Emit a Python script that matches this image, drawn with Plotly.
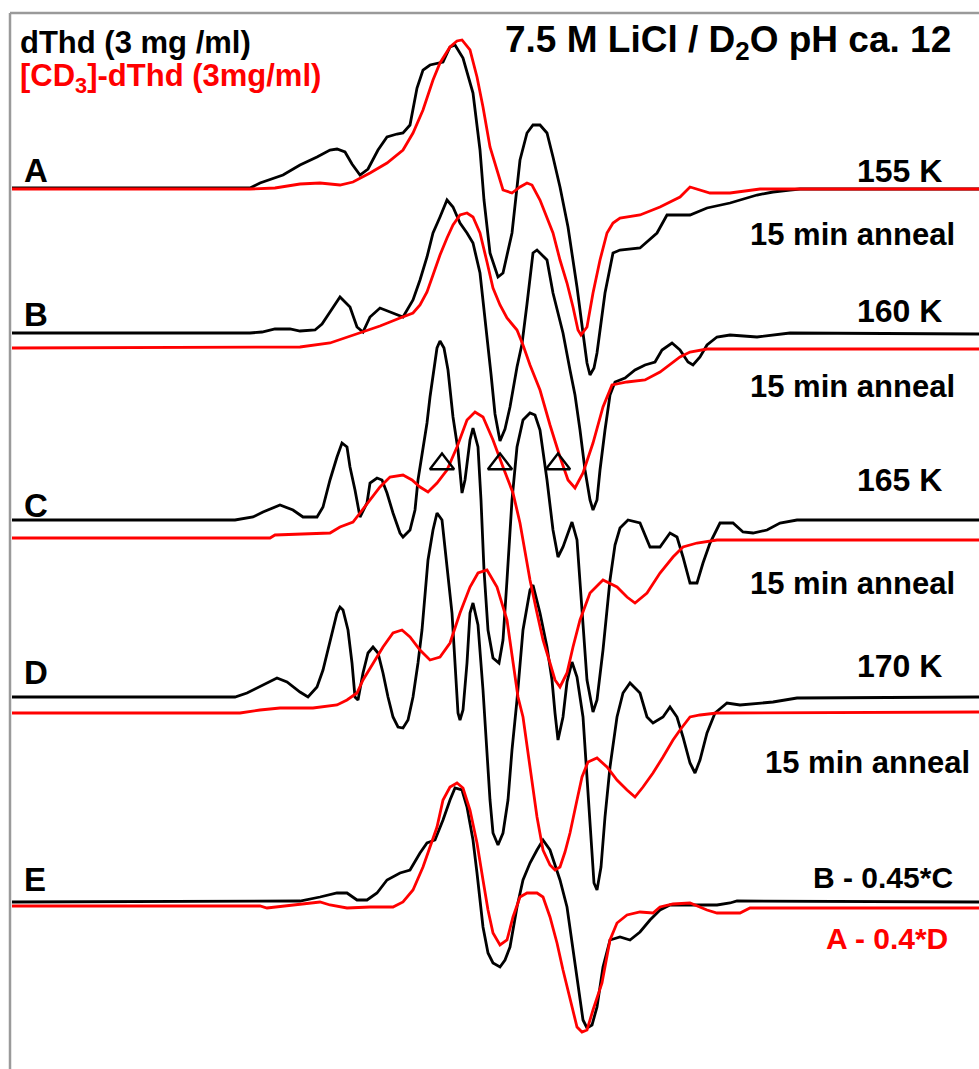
import plotly.graph_objects as go

# ---- ESR spectra (field in arbitrary units, first-derivative signal) ----
# A: 155 K
field_a_h = [12, 250, 260, 283, 300, 317, 330, 337, 345, 352, 360, 368, 378, 387, 397, 403, 410, 417, 423, 430, 443, 450, 455, 463, 473, 480, 484, 490, 498, 503, 512, 520, 527, 533, 540, 547, 553, 560, 568, 577, 583, 587, 590, 594, 597, 605, 613, 620, 640, 657, 667, 690, 707, 730, 757, 773, 790, 800, 979]
sig_a_h = [0, 0, 5, 13, 23, 31, 38, 39, 36, 24, 13, 19, 38, 51, 54, 55, 63, 100, 118, 123, 126, 141, 143, 130, 95, 38, -12, -65, -89, -85, -45, 28, 55, 63, 63, 55, 31, 1, -39, -99, -145, -175, -187, -180, -165, -105, -65, -62, -60, -45, -27, -27, -20, -15, -7, -4, -2, -1, -1]
field_a_d = [12, 250, 275, 300, 320, 340, 353, 370, 387, 403, 413, 423, 433, 440, 450, 457, 462, 470, 477, 483, 490, 497, 503, 512, 520, 527, 532, 540, 547, 553, 560, 567, 573, 578, 581, 587, 593, 600, 607, 613, 620, 640, 660, 680, 690, 700, 710, 730, 745, 760, 979]
sig_a_d = [0, 0, 1, 5, 6, 4, 7, 16, 26, 39, 56, 79, 109, 126, 142, 148, 149, 139, 112, 82, 42, 19, -1, -4, 2, 6, 4, -11, -28, -44, -71, -94, -118, -141, -146, -138, -104, -71, -44, -34, -29, -26, -18, -8, 2, -1, -4, -4, -2, 0, 0]

# B: 160 K
field_b_h = [12, 250, 262, 275, 290, 300, 315, 322, 330, 340, 350, 357, 363, 370, 380, 393, 403, 413, 420, 427, 433, 440, 447, 453, 460, 467, 473, 480, 483, 487, 491, 495, 500, 505, 510, 517, 522, 527, 533, 537, 547, 553, 563, 570, 575, 580, 585, 590, 593, 597, 600, 605, 610, 615, 625, 635, 645, 655, 662, 672, 680, 688, 693, 700, 707, 717, 730, 757, 790, 979]
sig_b_h = [1, 1, 2, 5, 5, 3, 4, 10, 22, 37, 27, 7, 2, 17, 26, 21, 17, 34, 54, 77, 101, 117, 134, 127, 111, 101, 91, 61, 34, 1, -40, -80, -107, -95, -73, -33, -10, 30, 81, 84, 74, 41, 1, -36, -61, -96, -136, -166, -176, -166, -136, -96, -61, -48, -44, -36, -31, -28, -16, -9, -16, -28, -31, -23, -11, -3, -1, -3, 1, 0]
field_b_d = [12, 300, 330, 360, 380, 400, 413, 420, 427, 433, 440, 447, 453, 460, 467, 473, 480, 487, 493, 500, 507, 517, 523, 530, 540, 550, 560, 568, 575, 583, 593, 603, 612, 627, 645, 660, 680, 690, 707, 979]
sig_b_d = [1, 2, 6, 16, 23, 31, 36, 44, 57, 74, 94, 111, 124, 134, 136, 132, 116, 87, 61, 44, 31, 19, 4, -16, -41, -76, -108, -131, -139, -124, -94, -58, -36, -33, -31, -23, -8, -3, 0, 0]

# C: 165 K
field_c_h = [12, 235, 253, 263, 280, 293, 303, 317, 323, 330, 337, 342, 347, 350, 355, 360, 367, 370, 377, 382, 387, 393, 400, 403, 410, 415, 418, 423, 427, 430, 434, 437, 440, 444, 448, 453, 458, 462, 465, 470, 473, 478, 481, 484, 488, 493, 499, 503, 507, 512, 517, 523, 530, 535, 540, 547, 553, 558, 563, 572, 577, 582, 587, 593, 597, 603, 610, 615, 620, 628, 640, 650, 660, 670, 677, 683, 690, 697, 703, 710, 720, 733, 743, 753, 767, 780, 797, 979]
sig_c_h = [0, 0, 3, 8, 15, 10, 3, 3, 13, 40, 63, 77, 73, 53, 30, 3, 17, 37, 42, 40, 27, 7, -13, -17, -10, 10, 40, 73, 97, 123, 150, 172, 179, 172, 150, 103, 70, 27, 40, 80, 92, 73, 20, -50, -110, -138, -143, -120, -60, 20, 73, 100, 107, 105, 90, 40, -10, -37, -27, -2, -20, -93, -160, -192, -180, -130, -60, -25, -8, 0, -3, -27, -27, -13, -17, -37, -63, -63, -43, -23, -3, -3, -12, -13, -10, -3, 0, 0]
field_c_d = [12, 270, 275, 330, 340, 353, 360, 370, 380, 390, 403, 412, 420, 428, 437, 447, 457, 467, 475, 483, 493, 503, 513, 520, 525, 530, 537, 543, 550, 555, 560, 567, 573, 580, 590, 603, 617, 627, 635, 647, 660, 673, 683, 697, 717, 979]
sig_c_d = [1, 1, 4, 6, 12, 17, 26, 39, 52, 62, 64, 59, 52, 47, 56, 69, 92, 119, 127, 122, 99, 72, 46, 16, -14, -41, -74, -101, -124, -141, -148, -134, -108, -81, -54, -41, -48, -58, -64, -54, -34, -18, -8, -4, -1, -1]

# D: 170 K
field_d_h = [12, 235, 247, 263, 277, 287, 300, 308, 317, 323, 330, 337, 340, 343, 348, 352, 355, 358, 363, 368, 373, 378, 383, 388, 393, 398, 403, 408, 413, 418, 422, 425, 428, 433, 437, 442, 445, 448, 452, 455, 458, 460, 463, 467, 470, 473, 478, 483, 487, 490, 493, 498, 503, 508, 512, 517, 523, 530, 533, 540, 547, 552, 555, 558, 563, 567, 572, 577, 583, 590, 594, 597, 601, 605, 610, 617, 623, 630, 640, 647, 653, 663, 670, 677, 683, 690, 695, 700, 707, 715, 727, 740, 773, 797, 979]
sig_d_h = [0, 0, 4, 12, 19, 15, 5, 0, 10, 27, 57, 84, 90, 87, 67, 34, 0, -3, 24, 44, 50, 44, 24, 0, -20, -30, -31, -23, 0, 34, 67, 100, 137, 167, 184, 177, 150, 117, 84, 34, -16, -23, -13, 34, 84, 94, 72, 7, -53, -103, -136, -148, -136, -103, -53, -3, 67, 107, 112, 84, 50, 17, -16, -43, -20, 15, 35, 20, -20, -120, -186, -193, -170, -120, -70, -20, 4, 14, 4, -20, -26, -20, -10, -20, -40, -66, -76, -63, -36, -16, -6, -8, -5, -1, 0]
field_d_d = [12, 240, 260, 280, 313, 337, 347, 357, 363, 373, 383, 393, 402, 410, 420, 430, 440, 450, 460, 470, 478, 487, 497, 507, 513, 518, 523, 530, 537, 543, 550, 555, 560, 565, 570, 577, 582, 588, 597, 607, 617, 627, 635, 643, 653, 663, 673, 680, 690, 700, 717, 979]
sig_d_d = [-1, -1, 2, 4, 4, 7, 12, 19, 32, 49, 65, 79, 82, 75, 62, 52, 55, 69, 99, 125, 139, 142, 125, 92, 49, 15, -5, -55, -105, -138, -153, -158, -155, -140, -121, -88, -65, -50, -46, -55, -68, -78, -85, -75, -61, -45, -28, -18, -5, -3, -1, 0]

# E: difference spectra (B - 0.45*C and A - 0.4*D)
field_e_h = [12, 300, 320, 337, 347, 357, 367, 377, 387, 400, 410, 420, 427, 435, 443, 450, 455, 462, 467, 473, 477, 480, 483, 488, 493, 500, 505, 510, 517, 523, 530, 537, 543, 550, 560, 567, 573, 578, 583, 587, 592, 597, 603, 610, 620, 630, 640, 650, 660, 670, 700, 717, 730, 737, 979]
sig_e_h = [0, 1, 5, 9, 9, 2, 2, 9, 22, 29, 32, 49, 59, 62, 82, 102, 114, 112, 95, 62, 29, 2, -25, -51, -61, -65, -58, -45, -5, 22, 39, 52, 62, 52, 22, -5, -48, -81, -118, -126, -123, -105, -65, -38, -35, -38, -30, -18, -8, -3, -3, -3, -1, 1, 0]
field_e_d = [12, 260, 267, 293, 320, 330, 347, 370, 393, 403, 413, 423, 430, 437, 443, 450, 457, 463, 470, 477, 483, 488, 493, 500, 507, 513, 520, 527, 537, 543, 550, 557, 563, 570, 577, 582, 587, 593, 602, 610, 617, 627, 640, 653, 660, 673, 690, 707, 717, 740, 750, 979]
sig_e_d = [1, 1, -1, 2, 5, 2, -1, 0, 0, 5, 17, 40, 60, 80, 107, 120, 124, 119, 97, 64, 27, -3, -26, -38, -33, -10, 10, 14, 14, 10, -10, -36, -63, -93, -120, -125, -123, -103, -76, -33, -16, -8, -5, -6, 0, 3, 4, -3, -6, -6, -1, -1]

# marked hyperfine lines on spectrum C
marker_fields = [442, 500, 558]
marker_level = 464

# (name, field, signal, baseline row, colour)
spectra = [
    ("A dThd", field_a_h, sig_a_h, 188, "#000000"),
    ("B dThd", field_b_h, sig_b_h, 334, "#000000"),
    ("C dThd", field_c_h, sig_c_h, 520, "#000000"),
    ("D dThd", field_d_h, sig_d_h, 697, "#000000"),
    ("E dThd", field_e_h, sig_e_h, 902, "#000000"),
    ("A CD3", field_a_d, sig_a_d, 189, "#ff0000"),
    ("B CD3", field_b_d, sig_b_d, 349, "#ff0000"),
    ("C CD3", field_c_d, sig_c_d, 539, "#ff0000"),
    ("D CD3", field_d_d, sig_d_d, 712, "#ff0000"),
    ("E CD3", field_e_d, sig_e_d, 907, "#ff0000"),
]

W, H = 979, 1069
fig = go.Figure()
for name, fx, sy, base, col in spectra:
    fig.add_trace(go.Scatter(
        x=fx, y=[s - base for s in sy], mode="lines", name=name,
        line=dict(color=col, width=2.8), hoverinfo="skip", showlegend=False,
    ))

fig.add_trace(go.Scatter(
    x=marker_fields, y=[-marker_level] * len(marker_fields), mode="markers",
    marker=dict(symbol="triangle-up-open", size=21, color="#000000",
                line=dict(width=2.4, color="#000000")),
    hoverinfo="skip", showlegend=False,
))

FONT = "Liberation Sans, Arial, sans-serif"


def label(x, y, text, size, color="#000000", anchor="left"):
    fig.add_annotation(x=x, y=-y, text="<b>" + text + "</b>", showarrow=False,
                       xanchor=anchor, yanchor="middle",
                       font=dict(family=FONT, size=size, color=color))


label(18, 42, "dThd (3 mg /ml)", 31)
label(18, 78, "[CD<sub>3</sub>]-dThd (3mg/ml)", 31, "#ff0000")
label(953, 42, "7.5 M LiCl / D<sub>2</sub>O pH ca. 12", 37, anchor="right")

for letter, row in [("A", 170), ("B", 314), ("C", 505), ("D", 672), ("E", 879)]:
    label(22, row, letter, 33)

for temp, row in [("155 K", 171), ("160 K", 311), ("165 K", 480), ("170 K", 666)]:
    label(944, row, temp, 32, anchor="right")

for row, right in [(234, 957), (386, 957), (583, 957), (762, 972)]:
    label(right, row, "15 min anneal", 31, anchor="right")

label(955, 877, "B - 0.45*C", 30, anchor="right")
label(950, 938, "A - 0.4*D", 30, "#ff0000", anchor="right")

# grey frame (top and left edges)
frame = dict(color="#9a9a9a", width=2.5)
fig.add_shape(type="line", xref="x", yref="y", x0=10, x1=W, y0=-13, y1=-13, line=frame)
fig.add_shape(type="line", xref="x", yref="y", x0=10, x1=10, y0=-13, y1=-H, line=frame)

fig.update_layout(
    width=W, height=H, margin=dict(l=0, r=0, t=0, b=0),
    paper_bgcolor="#ffffff", plot_bgcolor="#ffffff",
    xaxis=dict(range=[0, W], visible=False, fixedrange=True),
    yaxis=dict(range=[-H, 0], visible=False, fixedrange=True),
)

fig.write_html("out.html")
